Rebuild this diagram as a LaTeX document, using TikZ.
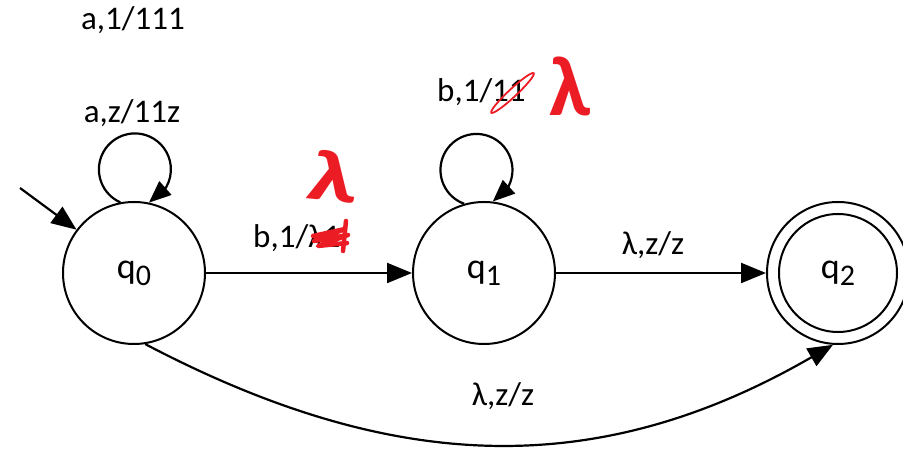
\documentclass[tikz,border=0pt]{standalone}
\usepackage{fontspec}
\setmainfont{Carlito}
\usetikzlibrary{arrows.meta}
\definecolor{hand}{RGB}{236,28,36}
\newcommand\qsub[1]{\raisebox{-7pt}{\fontsize{30}{30}\selectfont #1}}
\begin{document}
\begin{tikzpicture}[x=1pt,y=1pt,
  statenode/.style={circle, draw, line width=2pt, minimum size=142pt, inner sep=0pt, font=\fontsize{36}{40}\selectfont},
  innerring/.style={circle, draw, line width=2pt, minimum size=118pt, inner sep=0pt},
  lbl/.style={font=\fontsize{33}{38}\selectfont, inner sep=0pt},
  tr/.style={line width=2.2pt, -{Triangle[length=25pt,width=20pt]}},
  looptr/.style={line width=2.2pt, -{Triangle[length=22pt,width=18pt]}},
  redlam/.style={text=hand, inner sep=0pt},
  scribble/.style={draw=hand, line width=4.5pt, line cap=round, line join=round}
]
\useasboundingbox (0,0) rectangle (903,449);
% states
\node[statenode] (q0) at (134,176) {q\qsub{0}};
\node[statenode] (q1) at (484,176) {q\qsub{1}};
\node[statenode] (q2) at (838,176) {q\qsub{2}};
\node[innerring] (q2in) at (q2.center) {};
% initial arrow
\coordinate (init) at (20,261);
\draw[tr] (init) -- (q0.143);
% transitions
\draw[tr] (q0) -- (q1);
\draw[tr] (q1) -- (q2);
\draw[looptr] (q0.101) arc[start angle=246, end angle=-30, radius=36pt] -- (q0.78);
\draw[looptr] (q1.106) arc[start angle=250, end angle=-30, radius=36pt] -- (q1.83);
\draw[tr] (q0.279) .. controls (389,-23) and (594,-34) .. (q2.266);
% labels
\node[lbl] (l1) at (133,429) {a,1/111};
\node[lbl] (l2) at (132,336) {a,z/11z};
\node[lbl, anchor=west] (l3) at (253,211) {b,1/λ1};
\node[lbl, anchor=west] (l4) at (437,357) {b,1/11};
\node[lbl] (l5) at (653,204) {λ,z/z};
\node[lbl] (l6) at (503,53) {λ,z/z};
% red handwriting
\node[redlam, font=\bfseries\fontsize{72}{72}\selectfont, xscale=1.4, rotate=-8] (r1) at (335,272) {λ};
\node[redlam, font=\bfseries\fontsize{85}{85}\selectfont] (r2) at (570,363) {λ};
\draw[scribble] (313,213) -- (345,220) -- (314,208) -- (348,214) -- (318,203) -- (347,206);
\draw[scribble] (346,228) -- (343,198);
\draw[hand, line width=1.8pt, rotate around={43:(512.5,356)}] (512.5,356) ellipse[x radius=29, y radius=4];
\end{tikzpicture}
\end{document}
